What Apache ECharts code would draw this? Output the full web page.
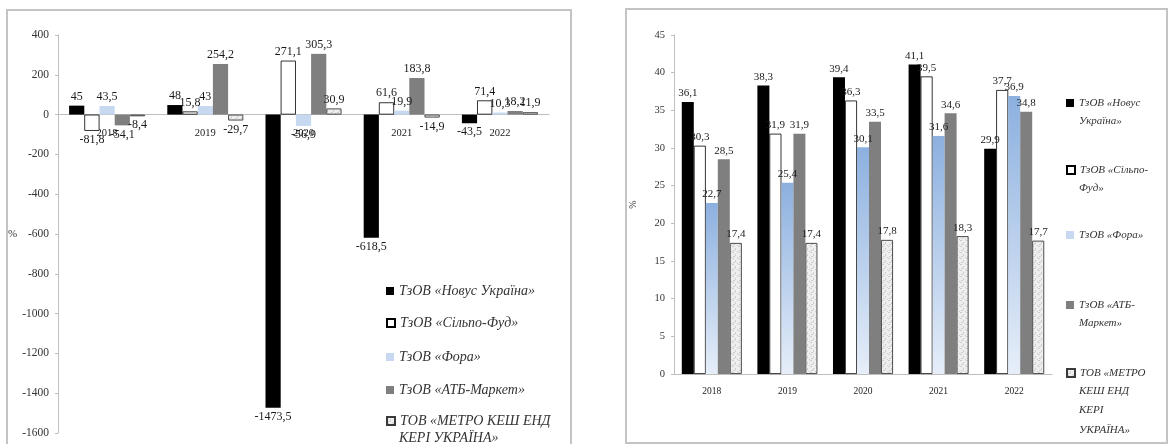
<!DOCTYPE html>
<html>
<head>
<meta charset="utf-8">
<script src="https://cdn.jsdelivr.net/npm/echarts@6/dist/echarts.min.js"></script>
<style>
  html, body { margin: 0; padding: 0; background: #ffffff; }
  #chart { width: 1171px; height: 444px; }
</style>
</head>
<body>
<div id="chart"></div>
<script>
// Years shown on both charts
const years = ['2018', '2019', '2020', '2021', '2022'];

// Company names (series)
const companyNames = [
  'ТзОВ «Новус Україна»',
  'ТзОВ «Сільпо-Фуд»',
  'ТзОВ «Фора»',
  'ТзОВ «АТБ-Маркет»',
  'ТОВ «МЕТРО КЕШ ЕНД КЕРІ УКРАЇНА»'
];

// Left chart: growth rates, %
const novusGrowth = [45, 48, -1473.5, -618.5, -43.5];
const silpoGrowth = [-81.8, 15.8, 271.1, 61.6, 71.4];
const foraGrowth  = [43.5, 43, -56.9, 19.9, 10.3];
const atbGrowth   = [-54.1, 254.2, 305.3, 183.8, 18.2];
const metroGrowth = [-8.4, -29.7, 30.9, -14.9, 11.9];

// Right chart: shares, %
const novusShare = [36.1, 38.3, 39.4, 41.1, 29.9];
const silpoShare = [30.3, 31.9, 36.3, 39.5, 37.7];
const foraShare  = [22.7, 25.4, 30.1, 31.6, 36.9];
const atbShare   = [28.5, 31.9, 33.5, 34.6, 34.8];
const metroShare = [17.4, 17.4, 17.8, 18.3, 17.7];

// Axis tick settings
const leftTicks  = { min: -1600, max: 400, interval: 200 };
const rightTicks = { min: 0, max: 45, interval: 5 };

// Legend wording, split into lines for each chart
const leftLegendLines = [
  ['ТзОВ «Новус Україна»'],
  ['ТзОВ «Сільпо-Фуд»'],
  ['ТзОВ «Фора»'],
  ['ТзОВ «АТБ-Маркет»'],
  ['ТОВ «МЕТРО КЕШ ЕНД', 'КЕРІ УКРАЇНА»']
];
const rightLegendLines = [
  ['ТзОВ «Новус', 'Україна»'],
  ['ТзОВ «Сільпо-', 'Фуд»'],
  ['ТзОВ «Фора»'],
  ['ТзОВ «АТБ-', 'Маркет»'],
  ['ТОВ «МЕТРО', 'КЕШ ЕНД', 'КЕРІ', 'УКРАЇНА»']
];

const SERIF = '"Liberation Serif", "DejaVu Serif", serif';

// Plot areas
const leftGrid  = { left: 58, top: 35, width: 491, height: 398 };
const rightGrid = { left: 674, top: 35, width: 378, height: 339 };

// The left category axis runs along the zero line
const leftZeroOffset = -leftGrid.height * (0 - leftTicks.min) / (leftTicks.max - leftTicks.min);

// Mottled light-grey fill for the METRO bars
function metroPattern() {
  const c = document.createElement('canvas');
  c.width = 6; c.height = 6;
  const g = c.getContext('2d');
  g.fillStyle = '#eeeeee';
  g.fillRect(0, 0, 6, 6);
  g.fillStyle = '#cdcdcd';
  g.fillRect(0, 0, 2, 1);
  g.fillRect(3, 2, 1, 2);
  g.fillRect(1, 4, 2, 1);
  g.fillRect(5, 5, 1, 1);
  return c;
}
const pattern = metroPattern();

const fmt = v => String(v).replace('.', ',');

function styles(side) {
  return [
    { color: '#000000' },
    { color: '#ffffff', borderColor: '#000000', borderWidth: 0.8 },
    side === 'left'
      ? { color: '#c6d9f1' }
      : { color: { type: 'linear', x: 0, y: 0, x2: 0, y2: 1,
          colorStops: [{ offset: 0, color: '#8cb0df' }, { offset: 1, color: '#e6eef9' }] } },
    { color: '#7f7f7f' },
    { color: { image: pattern, repeat: 'repeat' }, borderColor: '#3a3a3a', borderWidth: 0.9 }
  ];
}

function makeSeries(values, idx, axisIdx, side, labelSize, gap) {
  return {
    type: 'bar',
    name: companyNames[idx],
    xAxisIndex: axisIdx,
    yAxisIndex: axisIdx,
    barGap: '0%',
    barCategoryGap: gap,
    itemStyle: styles(side)[idx],
    label: {
      show: true,
      fontFamily: SERIF,
      fontSize: labelSize,
      color: '#1a1a1a',
      distance: 3,
      formatter: p => fmt(p.value)
    },
    data: values.map(v => ({ value: v, label: { position: v < 0 ? 'bottom' : 'top' } }))
  };
}

const leftValues = [novusGrowth, silpoGrowth, foraGrowth, atbGrowth, metroGrowth];
const rightValues = [novusShare, silpoShare, foraShare, atbShare, metroShare];

const series = [];
leftValues.forEach((vals, i) => series.push(makeSeries(vals, i, 0, 'left', 12, '22.6%')));
rightValues.forEach((vals, i) => series.push(makeSeries(vals, i, 1, 'right', 11, '20.6%')));

// Legends: one component per entry so each row sits on its own line
const legends = [];
const graphics = [
  { type: 'rect', shape: { x: 7, y: 10, width: 564, height: 445 },
    style: { fill: 'none', stroke: '#c4c4c4', lineWidth: 2 }, silent: true, z: -1 },
  { type: 'rect', shape: { x: 626, y: 9, width: 541, height: 434 },
    style: { fill: 'none', stroke: '#c4c4c4', lineWidth: 2 }, silent: true, z: -1 }
];

const leftRows = [291, 323, 357, 390, 421];
leftLegendLines.forEach((lines, i) => {
  legends.push({
    orient: 'vertical', left: 386, top: leftRows[i] - 8, padding: 0,
    itemWidth: 8, itemHeight: 8, icon: 'rect',
    data: [companyNames[i]],
    formatter: () => lines[0],
    textStyle: { fontFamily: SERIF, fontStyle: 'italic', fontSize: 14, color: '#333', lineHeight: 16 }
  });
  lines.slice(1).forEach((t, k) => graphics.push({
    type: 'text', left: 399, top: leftRows[i] + 18 * (k + 1) - 8,
    style: { text: t, font: 'italic 14px ' + SERIF, fill: '#333' }, silent: true
  }));
});

const rightRows = [103, 170, 235, 305, 373];
rightLegendLines.forEach((lines, i) => {
  legends.push({
    orient: 'vertical', left: 1066, top: rightRows[i] - 7, padding: 0,
    itemWidth: 8, itemHeight: 8, icon: 'rect',
    data: [companyNames[i]],
    formatter: () => lines[0],
    textStyle: { fontFamily: SERIF, fontStyle: 'italic', fontSize: 11, color: '#333', lineHeight: 14 }
  });
  lines.slice(1).forEach((t, k) => graphics.push({
    type: 'text', left: 1079, top: rightRows[i] + 19.5 * (k + 1) - 7,
    style: { text: t, font: 'italic 11px ' + SERIF, fill: '#333' }, silent: true
  }));
});

const plainNumber = v => String(v);

const option = {
  animation: false,
  backgroundColor: '#ffffff',
  grid: [leftGrid, rightGrid],
  xAxis: [
    { type: 'category', gridIndex: 0, data: years, position: 'bottom', offset: leftZeroOffset,
      axisLine: { show: true, onZero: false, lineStyle: { color: '#bfbfbf', width: 1 } },
      axisTick: { show: false },
      axisLabel: { fontFamily: SERIF, fontSize: 10.5, color: '#222', margin: 13 } },
    { type: 'category', gridIndex: 1, data: years,
      axisLine: { show: true, lineStyle: { color: '#bfbfbf', width: 1 } },
      axisTick: { show: false },
      axisLabel: { fontFamily: SERIF, fontSize: 9.5, color: '#222', margin: 12 } }
  ],
  yAxis: [
    { type: 'value', gridIndex: 0, min: leftTicks.min, max: leftTicks.max, interval: leftTicks.interval,
      name: '%', nameLocation: 'middle', nameGap: 33, nameRotate: 0,
      nameTextStyle: { fontFamily: SERIF, fontSize: 11, color: '#333' },
      axisLine: { show: true, onZero: false, lineStyle: { color: '#bfbfbf' } },
      axisTick: { show: true, length: 3, lineStyle: { color: '#bfbfbf' } },
      splitLine: { show: false },
      axisLabel: { fontFamily: SERIF, fontSize: 11.5, color: '#333', margin: 9, formatter: plainNumber } },
    { type: 'value', gridIndex: 1, min: rightTicks.min, max: rightTicks.max, interval: rightTicks.interval,
      name: '%', nameLocation: 'middle', nameGap: 36, nameRotate: 90,
      nameTextStyle: { fontFamily: SERIF, fontSize: 10, color: '#333' },
      axisLine: { show: true, lineStyle: { color: '#bfbfbf' } },
      axisTick: { show: true, length: 3, lineStyle: { color: '#bfbfbf' } },
      splitLine: { show: false },
      axisLabel: { fontFamily: SERIF, fontSize: 10.5, color: '#333', margin: 9, formatter: plainNumber } }
  ],
  legend: legends,
  graphic: graphics,
  series: series
};

const chart = echarts.init(document.getElementById('chart'), null, { renderer: 'canvas' });
chart.setOption(option);
</script>
</body>
</html>
